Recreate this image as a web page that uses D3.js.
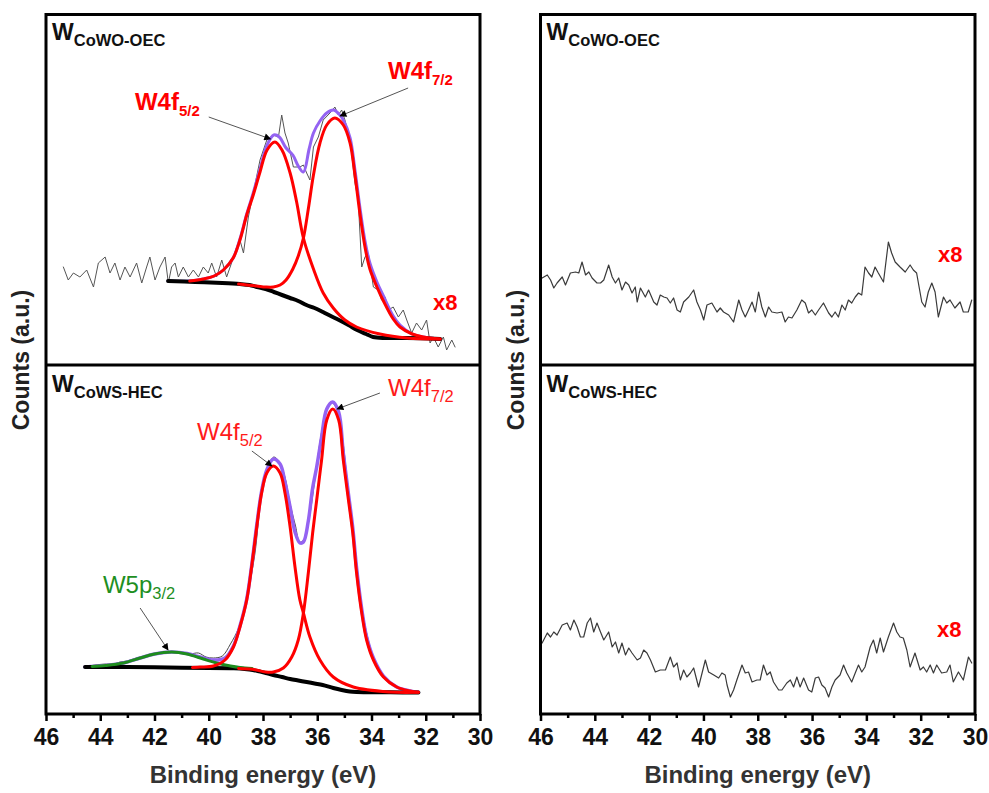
<!DOCTYPE html>
<html><head><meta charset="utf-8">
<script src="https://cdn.jsdelivr.net/npm/d3@7"></script>
<style>
body{margin:0;background:#fff}
svg{display:block}
text{font-family:"Liberation Sans",Arial,Helvetica,sans-serif}
</style>
</head><body>
<svg id="c" width="989" height="793"></svg>
<script>
// ---------- DATA (binding energy eV, counts a.u.) ----------
const energyMajorTicks = [46,44,42,40,38,36,34,32,30];
const energyMinorTicks = [45,43,41,39,37,35,33,31];

// Top-left: W CoWO-OEC (x8), raw spectrum
const tlRaw = [[45.36,98],[45.18,85],[44.99,92],[44.75,88],[44.50,95],[44.25,78],[44.07,102],[43.82,108],[43.64,92],[43.46,102],[43.27,85],[43.09,98],[42.90,88],[42.66,102],[42.47,82],[42.29,98],[42.17,108],[41.98,85],[41.80,98],[41.61,108],[41.49,82],[41.37,98],[41.24,102],[41.12,88],[40.94,98],[40.75,88],[40.57,95],[40.38,88],[40.20,98],[40.02,92],[39.89,102],[39.71,88],[39.52,105],[39.34,88],[39.16,102],[38.97,118],[38.85,125],[38.72,112],[38.54,148],[38.36,172],[38.11,205],[37.86,225],[37.62,230],[37.43,228],[37.31,250],[37.19,232],[37.07,222],[36.88,198],[36.64,198],[36.51,200],[36.39,192],[36.27,185],[36.14,218],[35.96,228],[35.78,245],[35.53,252],[35.35,258],[35.22,250],[35.10,255],[34.98,245],[34.79,225],[34.61,182],[34.49,165],[34.36,98],[34.24,108],[34.12,112],[33.93,78],[33.75,75],[33.63,65],[33.50,68],[33.38,55],[33.20,58],[33.01,48],[32.83,55],[32.70,45],[32.52,32],[32.34,42],[32.15,35],[31.97,45],[31.84,22],[31.72,28],[31.54,18],[31.35,28],[31.23,15],[31.04,25],[30.92,18]];
const tlBackground = [[41.5,84],[40.5,83],[39.5,82],[38.85,81],[38.5,80],[38.22,78],[37.9,76],[37.6,73],[37.3,70],[37.0,67],[36.7,64],[36.4,60],[36.1,57],[35.79,53],[35.5,49],[35.2,45],[34.85,40],[34.53,35],[34.2,31],[33.94,28],[33.5,27],[32.69,27],[31.47,26]];
const tlW4f52 = [[40.7,84],[40.2,86],[39.8,89],[39.46,95],[39.1,107],[38.85,125],[38.6,150],[38.36,170],[38.11,193],[37.85,215],[37.56,223],[37.3,215],[37.0,192],[36.76,163],[36.51,127],[36.14,96],[35.78,72],[35.41,57],[34.98,45],[34.55,38],[33.69,31],[32.69,27],[31.47,26]];
const tlW4f72 = [[38.9,81],[38.6,80],[38.23,79],[37.9,78],[37.62,78],[37.37,80],[37.15,85],[36.9,96],[36.7,109],[36.51,127],[36.33,156],[36.14,190],[35.9,222],[35.65,240],[35.35,247],[35.04,240],[34.79,222],[34.61,190],[34.42,150],[34.24,118],[34.06,96],[33.8,78],[33.56,64],[33.2,46],[32.95,38],[32.5,31],[32.09,28],[31.47,26]];
const tlEnvelope = [[41.5,84],[40.7,84],[40.2,86],[39.8,89],[39.46,95],[39.1,107],[38.85,126],[38.6,151],[38.36,172],[38.11,196],[37.85,220],[37.6,230],[37.4,228],[37.15,217],[36.9,210],[36.7,199],[36.51,193],[36.3,216],[36.14,232],[35.9,244],[35.65,252],[35.4,255],[35.2,251],[35.04,245],[34.79,227],[34.61,195],[34.42,156],[34.24,124],[34.06,102],[33.8,83],[33.56,69],[33.2,49],[32.95,40],[32.5,31],[32.09,28],[31.47,26]];

// Bottom-left: W CoWS-HEC
const blRaw = [[44.6,47],[44.2,49],[43.76,50],[43.5,50],[43.27,52],[43.0,53],[42.66,56],[42.3,58],[42.0,60],[41.67,61],[41.37,62],[41.0,61],[40.7,60],[40.38,61],[40.1,57],[39.83,56],[39.5,58],[39.2,70],[38.9,86],[38.6,116],[38.3,160],[38.05,222],[37.85,245],[37.6,257],[37.4,252],[37.2,238],[37.0,210],[36.8,188],[36.65,172],[36.5,174],[36.3,195],[36.1,232],[35.9,272],[35.7,300],[35.5,312],[35.3,306],[35.1,282],[34.9,235],[34.7,190],[34.5,140],[34.3,98],[34.1,72],[33.9,55],[33.6,40],[33.3,31],[33.0,26],[32.7,23],[32.3,22]];
const blBackground = [[44.56,47],[43,47],[41.5,46.5],[40,46],[39.2,45.7],[38.85,45.5],[38.5,44.5],[38.2,43],[37.9,41],[37.62,39],[37.3,37],[37.0,35],[36.7,33.5],[36.39,32],[36.1,30.5],[35.8,29],[35.41,26],[35.1,24],[34.8,22.5],[34.55,22],[34.0,21.8],[33.3,21.7],[32.27,21.5]];
const blW5p32 = [[44.3,47.5],[43.8,48.5],[43.15,51],[42.53,56],[42.0,60],[41.37,62],[40.8,60],[40.2,55],[39.71,51],[39.2,48],[38.85,46.5],[38.4,45.5]];
const blW4f52 = [[40.6,46.5],[40.32,47],[39.83,48],[39.40,54],[39.09,67],[38.85,87],[38.60,114],[38.42,147],[38.23,187],[38.05,221],[37.86,241],[37.62,248],[37.37,241],[37.19,221],[37.00,187],[36.82,147],[36.64,114],[36.51,101],[36.27,77],[35.90,54],[35.41,37],[34.67,27],[33.32,22],[32.27,21.7]];
const blW4f72 = [[38.9,45.6],[38.4,44.8],[37.9,42],[37.62,42],[37.25,46],[36.94,57],[36.70,74],[36.51,101],[36.33,141],[36.17,181],[36.02,214],[35.84,254],[35.65,294],[35.43,305],[35.21,294],[35.04,254],[34.85,214],[34.69,181],[34.55,141],[34.36,101],[34.18,74],[33.93,54],[33.56,37],[33.07,27],[32.58,23],[32.27,21.7]];
const blEnvelope = [[44.56,47],[43.8,48.5],[43.15,51],[42.53,56],[42.0,60],[41.37,62],[40.8,60.5],[40.32,57],[39.83,54],[39.40,56],[39.09,68],[38.85,88],[38.60,115],[38.42,148],[38.23,189],[38.05,223],[37.86,244],[37.62,255],[37.37,250],[37.19,232],[37.00,207],[36.82,182],[36.64,171],[36.51,172],[36.33,193],[36.17,226],[36.02,247],[35.84,277],[35.65,305],[35.43,312],[35.21,302],[35.04,261],[34.85,220],[34.69,186],[34.55,146],[34.36,105],[34.18,77],[33.93,56],[33.56,38],[33.07,27],[32.58,23],[32.27,21.7]];

// Top-right: W CoWO-OEC (x8), raw spectrum
const trRaw = [[45.94,87],[45.75,90],[45.63,85],[45.51,77],[45.39,82],[45.20,88],[45.08,80],[44.90,92],[44.71,93],[44.59,92],[44.47,103],[44.34,90],[44.22,93],[44.10,87],[43.92,82],[43.79,82],[43.67,85],[43.49,100],[43.36,88],[43.24,82],[43.12,87],[43.00,75],[42.87,83],[42.75,80],[42.63,72],[42.51,78],[42.44,63],[42.32,77],[42.14,68],[42.02,75],[41.83,63],[41.71,60],[41.59,70],[41.46,68],[41.34,67],[41.22,62],[41.10,67],[40.97,55],[40.85,53],[40.73,63],[40.54,68],[40.36,75],[40.24,63],[40.11,55],[39.99,45],[39.87,60],[39.69,62],[39.50,53],[39.38,57],[39.26,53],[39.07,50],[38.89,43],[38.70,65],[38.58,55],[38.46,48],[38.34,55],[38.21,63],[38.09,53],[37.97,73],[37.85,58],[37.72,48],[37.60,58],[37.48,53],[37.29,52],[37.11,53],[36.99,43],[36.87,48],[36.74,47],[36.56,55],[36.38,65],[36.25,62],[36.13,52],[36.01,55],[35.88,50],[35.76,55],[35.58,62],[35.39,52],[35.27,48],[35.15,53],[35.03,48],[34.90,60],[34.78,55],[34.66,65],[34.54,62],[34.41,68],[34.29,72],[34.17,70],[34.05,98],[33.92,92],[33.80,88],[33.68,98],[33.56,92],[33.37,83],[33.19,123],[33.07,112],[32.94,103],[32.76,98],[32.57,93],[32.39,100],[32.27,95],[32.15,92],[31.96,63],[31.84,58],[31.72,73],[31.59,82],[31.47,73],[31.35,48],[31.16,68],[31.04,62],[30.92,65],[30.74,57],[30.55,63],[30.43,53],[30.25,53],[30.12,65]];

// Bottom-right: W CoWS-HEC (x8), raw spectrum
const brRaw = [[45.94,71],[45.75,81],[45.63,77],[45.51,82],[45.39,79],[45.20,89],[45.02,91],[44.90,84],[44.77,94],[44.65,87],[44.53,77],[44.41,77],[44.28,91],[44.16,96],[44.04,82],[43.92,91],[43.79,82],[43.67,74],[43.49,82],[43.36,67],[43.24,72],[43.12,61],[43.00,71],[42.87,59],[42.75,66],[42.63,61],[42.44,54],[42.32,56],[42.20,64],[42.08,61],[41.95,54],[41.77,42],[41.59,44],[41.40,44],[41.22,57],[41.10,47],[40.97,51],[40.85,34],[40.73,44],[40.61,37],[40.48,41],[40.36,46],[40.18,27],[40.05,41],[39.93,54],[39.81,42],[39.62,39],[39.44,36],[39.32,41],[39.20,39],[39.13,29],[39.01,17],[38.89,24],[38.77,34],[38.58,49],[38.46,41],[38.34,42],[38.21,32],[38.03,34],[37.91,34],[37.79,49],[37.66,39],[37.54,42],[37.42,32],[37.23,24],[37.11,24],[36.93,31],[36.80,34],[36.68,27],[36.56,37],[36.44,27],[36.31,36],[36.13,24],[36.01,22],[35.88,36],[35.76,37],[35.64,29],[35.52,26],[35.39,17],[35.27,27],[35.15,34],[34.97,39],[34.84,49],[34.72,41],[34.54,32],[34.41,41],[34.29,49],[34.17,42],[34.05,47],[33.86,67],[33.74,74],[33.62,61],[33.49,76],[33.37,62],[33.19,77],[33.00,91],[32.88,82],[32.76,77],[32.64,76],[32.51,64],[32.39,47],[32.21,61],[32.02,44],[31.90,47],[31.78,42],[31.65,49],[31.53,41],[31.41,49],[31.23,41],[31.04,42],[30.92,49],[30.80,32],[30.61,42],[30.43,34],[30.24,57],[30.12,51]];

// Annotations [text, sub, labelPos, lineFrom, lineTo]
const tlLabels = [
  {t:"W4f", s:"5/2", at:[42.72,255], from:[40.0,248], to:[37.72,226]},
  {t:"W4f", s:"7/2", at:[33.39,286], from:[32.65,277], to:[35.16,249]}
];
const blLabels = [
  {t:"W4f", s:"5/2", at:[40.43,274], from:[38.41,263], to:[37.67,248], c:"#ff1a1a"},
  {t:"W4f", s:"7/2", at:[33.39,318], from:[33.69,321], to:[35.27,305], c:"#ff1a1a"},
  {t:"W5p", s:"3/2", at:[43.90,121], from:[42.53,106], to:[41.50,64], c:"#1f8f1f"}
];
const scaleLabel = "x8";
const scalePosTL = [31.73,55], scalePosTR = [31.36,103], scalePosBR = [31.40,77];
const panelTitles = {top:"CoWO-OEC", bottom:"CoWS-HEC"};

// ---------- DRAWING ----------
const svg = d3.select("#c");
const defs = svg.append("defs");
defs.append("marker").attr("id","arr").attr("viewBox","0 0 10 10")
  .attr("refX",9).attr("refY",5).attr("markerWidth",8).attr("markerHeight",7)
  .attr("markerUnits","userSpaceOnUse").attr("orient","auto")
  .append("path").attr("d","M0,0L10,5L0,10z").attr("fill","#000");

const sides = {L:{x0:46,x1:480}, R:{x0:540.5,x1:975}};
const yTop = d3.scaleLinear().domain([0,350]).range([365,15]);
const yBot = d3.scaleLinear().domain([0,350]).range([714,364]);
const RED="#ff0000", PURPLE="#9463f2", GREEN="#1e8c1e";

function xScale(s){ return d3.scaleLinear().domain([46,30]).range([s.x0,s.x1]); }

function drawLine(g,x,y,data,color,w,smooth){
  const ln = d3.line().x(d=>x(d[0])).y(d=>y(d[1]))
    .curve(smooth ? d3.curveCatmullRom.alpha(0.5) : d3.curveLinear);
  g.append("path").datum(data).attr("d",ln).attr("fill","none")
    .attr("stroke",color).attr("stroke-width",w)
    .attr("stroke-linejoin","round").attr("stroke-linecap","round");
}

function title(g,x,yb,sub){
  const t = g.append("text").attr("x",x).attr("y",yb).attr("fill","#111").attr("font-weight","bold");
  t.append("tspan").attr("font-size",23).text("W");
  t.append("tspan").attr("font-size",16.5).attr("dy",6).text(sub);
}

function label(g,x,y,L,color,weight,big,small){
  const t = g.append("text").attr("x",x(L.at[0])).attr("y",y(L.at[1]))
    .attr("fill",color).attr("font-weight",weight);
  t.append("tspan").attr("font-size",big).text(L.t);
  t.append("tspan").attr("font-size",small).attr("dy",6).text(L.s);
  g.append("line").attr("x1",x(L.from[0])).attr("y1",y(L.from[1]))
    .attr("x2",x(L.to[0])).attr("y2",y(L.to[1]))
    .attr("stroke","#555").attr("stroke-width",1).attr("marker-end","url(#arr)");
}

function x8(g,x,y,p){
  g.append("text").attr("x",x(p[0])).attr("y",y(p[1])).attr("fill",RED)
    .attr("font-weight","bold").attr("font-size",22).text(scaleLabel);
}

// clip paths
["L","R"].forEach(k=>{
  const s=sides[k];
  defs.append("clipPath").attr("id","clip"+k).append("rect")
    .attr("x",s.x0).attr("y",14).attr("width",s.x1-s.x0).attr("height",700);
});

// ---- Left panels ----
{
  const x = xScale(sides.L);
  const g = svg.append("g").attr("clip-path","url(#clipL)");
  // top
  drawLine(g,x,yTop,tlRaw,"#555",1,false);
  drawLine(g,x,yTop,tlEnvelope,PURPLE,3,true);
  drawLine(g,x,yTop,tlBackground,"#000",4,true);
  drawLine(g,x,yTop,tlW4f52,RED,3,true);
  drawLine(g,x,yTop,tlW4f72,RED,3,true);
  // bottom
  drawLine(g,x,yBot,blRaw,"#4a4a4a",1,true);
  drawLine(g,x,yBot,blEnvelope,PURPLE,3.5,true);
  drawLine(g,x,yBot,blBackground,"#000",4,true);
  drawLine(g,x,yBot,blW5p32,GREEN,3,true);
  drawLine(g,x,yBot,blW4f52,RED,3,true);
  drawLine(g,x,yBot,blW4f72,RED,3,true);

  const a = svg.append("g");
  tlLabels.forEach(L=>label(a,x,yTop,L,RED,"bold",24,15));
  blLabels.forEach(L=>label(a,x,yBot,L,L.c,"normal",24,16.5));
  x8(a,x,yTop,scalePosTL);
}
// ---- Right panels ----
{
  const x = xScale(sides.R);
  const g = svg.append("g").attr("clip-path","url(#clipR)");
  drawLine(g,x,yTop,trRaw,"#3a3a3a",1.2,false);
  drawLine(g,x,yBot,brRaw,"#3a3a3a",1.2,false);
  const a = svg.append("g");
  x8(a,x,yTop,scalePosTR);
  x8(a,x,yBot,scalePosBR);
}

// ---- Frames, axes, titles ----
["L","R"].forEach(k=>{
  const s = sides[k], x = xScale(s);
  svg.append("rect").attr("x",s.x0).attr("y",14.5).attr("width",s.x1-s.x0).attr("height",699.5)
    .attr("fill","none").attr("stroke","#000").attr("stroke-width",3);
  svg.append("line").attr("x1",s.x0).attr("x2",s.x1).attr("y1",365).attr("y2",365)
    .attr("stroke","#000").attr("stroke-width",3);

  const major = svg.append("g").attr("transform","translate(0,714)")
    .call(d3.axisBottom(x).tickValues(energyMajorTicks).tickSize(7).tickPadding(8).tickFormat(d3.format("d")));
  major.select(".domain").remove();
  major.selectAll(".tick line").attr("stroke","#000").attr("stroke-width",2.5);
  major.selectAll(".tick text").attr("font-size",23).attr("font-weight","bold")
    .attr("fill","#111").attr("font-family",'"Liberation Sans",Arial,sans-serif');
  const minor = svg.append("g").attr("transform","translate(0,714)")
    .call(d3.axisBottom(x).tickValues(energyMinorTicks).tickSize(4).tickFormat(""));
  minor.select(".domain").remove();
  minor.selectAll(".tick line").attr("stroke","#000").attr("stroke-width",2.5);

  svg.append("text").attr("x",(s.x0+s.x1)/2).attr("y",783).attr("text-anchor","middle")
    .attr("font-size",24).attr("font-weight","bold").attr("fill","#333").text("Binding energy (eV)");
  const yx = k==="L" ? 29 : 524;
  svg.append("text").attr("transform",`translate(${yx},360) rotate(-90)`).attr("text-anchor","middle")
    .attr("font-size",23).attr("font-weight","bold").attr("fill","#222").text("Counts (a.u.)");

  title(svg,s.x0+6,40,panelTitles.top);
  title(svg,s.x0+6,392,panelTitles.bottom);
});
</script>
</body></html>
